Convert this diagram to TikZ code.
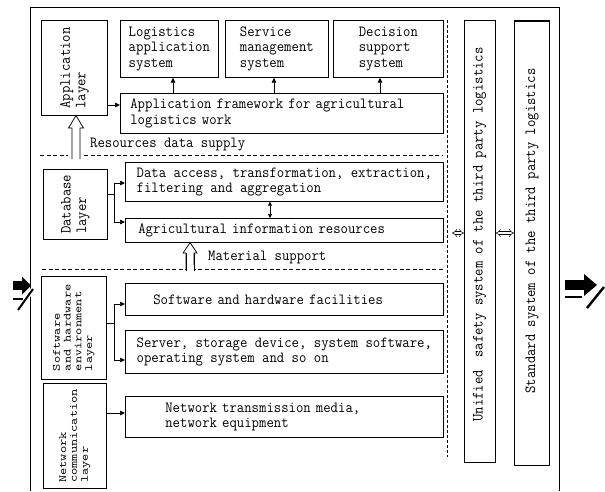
\documentclass[tikz,border=0pt]{standalone}
\usepackage{fontspec}
\setmonofont[FakeStretch=0.925]{Latin Modern Mono}
\newfontfamily\lbltt[FakeStretch=1.25]{Latin Modern Mono}
\usetikzlibrary{arrows.meta}
\begin{document}
\begin{tikzpicture}[x=1pt,y=-1pt,
  box/.style={draw, line width=0.7pt, anchor=north west, inner sep=0pt, align=left,
    font=\ttfamily\fontsize{15.5}{15.5}\selectfont},
  rlbl/.style={rotate=90, inner sep=0pt, align=left, font=\ttfamily\fontsize{15.5}{15.5}\selectfont},
  tight/.style={font=\lbltt\fontsize{11}{10.8}\selectfont},
  plain/.style={inner sep=0pt, anchor=west, font=\ttfamily\fontsize{15.5}{15.5}\selectfont},
  arr/.style={-{Triangle[length=5pt,width=4.5pt]}, line width=0.7pt},
  darr/.style={{Triangle[length=4pt,width=4pt]}-{Triangle[length=4pt,width=4pt]}, line width=0.7pt},
  sep/.style={line width=0.7pt, dash pattern=on 4pt off 2.5pt},
  dbl/.style={double, double distance=2.2pt, line width=0.5pt, {Implies}-{Implies}},
  hollow/.style={line width=0.7pt}]
\useasboundingbox (0,0) rectangle (605,491);

% outer frame (open at the bottom)
\draw[line width=1pt] (30,491) -- (30,7) -- (559,7) -- (559,491);

% ---- application layer ----
\node[box, line width=1pt, minimum width=66, minimum height=95] (app) at (41,20) {};
\node[rlbl] (applbl) at (app.center) {Application\\layer};
\node[box, minimum width=98, minimum height=57] (las) at (120,20) {Logistics\\application\\system};
\node[box, minimum width=103, minimum height=57] (sms) at (225,20) {Service\\management\\system};
\node[box, minimum width=110, minimum height=57] (dss) at (333,20) {Decision\\support\\system};
\node[box, minimum height=40, text width=303, inner xsep=10] (fw) at (120,93)
  {Application framework for agricultural\\logistics work};
\draw[arr] (app.east |- 0,105) -- (fw.west |- 0,105);
\draw[arr] (fw.north -| 173,0) -- (las.south -| 173,0);
\draw[arr] (fw.north -| 274,0) -- (sms.south -| 274,0);
\draw[arr] (fw.north -| 380,0) -- (dss.south -| 380,0);

% hollow arrow: resources data supply
\fill[white] (72,158) -- (72,128) -- (68.5,128) -- (76,115.5) -- (83.5,128) -- (80,128) -- (80,158) -- cycle;
\node[plain] (rds) at (90,145) {Resources data supply};
\draw[sep] (40,155) -- (68,155);
\draw[sep] (84,155) -- (443,155);
\fill[white] (72.5,150) rectangle (79.5,159);
\draw[hollow] (72,159) -- (72,128) -- (68.5,128) -- (76,115.5) -- (83.5,128) -- (80,128) -- (80,159);

% ---- database layer ----
\node[box, minimum width=64, minimum height=70] (dbl) at (43,169) {};
\node[rlbl] (dbllbl) at (dbl.center) {Database\\layer};
\node[box, minimum width=318, minimum height=39] (da) at (125,162)
  {Data access, transformation, extraction,\\filtering and aggregation};
\node[box, minimum height=24, text width=292, inner xsep=13] (ai) at (125,218)
  {Agricultural information resources};
\coordinate (dbj) at (114,194);
\draw[line width=0.7pt] (dbl.east |- dbj) -- (dbj);
\draw[line width=0.7pt] (114,183) -- (114,222);
\draw[arr] (114,183) -- (da.west |- 0,183);
\draw[arr] (114,222) -- (ai.west |- 0,222);
\draw[darr] (da.south -| 270,0) -- (ai.north -| 270,0);

% hollow arrow: material support
\draw[hollow, fill=white] (186,269) -- (186,253) -- (183,253) -- (190,242.5) -- (197,253) -- (194,253) -- (194,269);
\node[plain] (ms) at (208,257) {Material support};
\draw[sep] (42,269) -- (443,269);
\fill[white] (186.5,265) rectangle (193.5,271);
\draw[hollow] (186,271) -- (186,253);
\draw[hollow] (194,271) -- (194,253);

% ---- software and hardware environment layer ----
\node[box, minimum width=65, minimum height=103] (swl) at (41,276) {};
\node[rlbl, tight] (swllbl) at (swl.center) {Software\\and hardware\\environment\\layer};
\node[box, minimum height=32, text width=262, inner xsep=28] (swf) at (125,283)
  {Software and hardware facilities};
\node[box, minimum width=318, minimum height=43] (srv) at (125,330)
  {Server, storage device, system software,\\operating system and so on};
\coordinate (swj) at (114,323);
\draw[line width=0.7pt] (swl.east |- swj) -- (swj);
\draw[line width=0.7pt] (114,304) -- (114,360);
\draw[arr] (114,304) -- (swf.west |- 0,304);
\draw[arr] (114,360) -- (srv.west |- 0,360);

% ---- network communication layer ----
\node[box, minimum width=63, minimum height=105] (ncl) at (43,383) {};
\node[rlbl, tight] (ncllbl) at (ncl.center) {Network\\communication\\layer};
\node[box, minimum height=41, text width=238, inner xsep=40] (ntm) at (125,396)
  {Network transmission media,\\network equipment};
\draw[arr] (ncl.east |- 0,413) -- (ntm.west |- 0,413);

% vertical dashed separator
\coordinate (vtop) at (447,20);
\coordinate (vbot) at (447,457);
\draw[line width=0.7pt, dash pattern=on 3pt off 2pt] (vtop) -- (vbot);

% ---- right columns ----
\node[box, minimum width=31, minimum height=442] (uni) at (464,20) {};
\node[rlbl] (unilbl) at (479.5,234.5) {Unified\hspace{5pt} safety system of the third party logistics};
\node[box, minimum width=35, minimum height=444] (std) at (514,21) {};
\node[rlbl] (stdlbl) at (532,231) {Standard system of the third party logistics};
\draw[line width=1.6pt] (std.north west) -- (std.north east);
\draw[dbl] (452,233) -- (uni.west |- 0,233);
\draw[dbl] (uni.east |- 0,233) -- (std.west |- 0,233);

% ---- arrow symbols ----
% left
\fill (13,281) rectangle (23,290);
\fill (22,276.5) -- (31,285.5) -- (22,294.5) -- cycle;
\draw[line width=2pt] (13,298.5) -- (23,298.5);
\draw[white, line width=4.5pt] (19,309) -- (33,289);
\draw[line width=2pt] (18,310) -- (33,289);
% right
\fill (565,280) rectangle (585,290);
\fill (584,274) -- (597,285) -- (584,296) -- cycle;
\draw[line width=2pt] (565,297) -- (582,297);
\draw[white, line width=5pt] (588,307) -- (604,287);
\draw[line width=2.4pt] (587,308) -- (604,287);
\end{tikzpicture}
\end{document}
